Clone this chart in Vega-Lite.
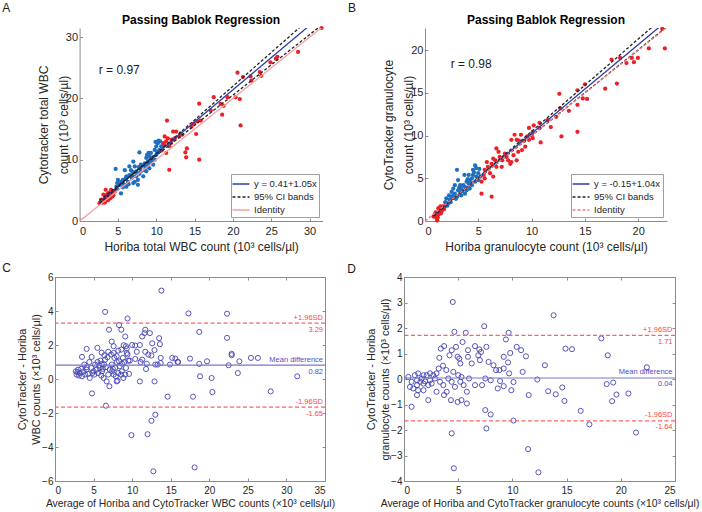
{
"$schema": "https://vega.github.io/schema/vega-lite/v6.json",
"background": "white",
"padding": {"left": 1, "top": 2, "right": 2, "bottom": 0},
"config": {
  "font": "Liberation Sans",
  "view": {"stroke": null},
  "axis": {"grid": false, "tickSize": -3, "labelPadding": 7, "domainColor": "#8c8c8c", "tickColor": "#8c8c8c", "labelColor": "#262626", "titleColor": "#262626", "titleFontWeight": "normal", "labelFont": "Liberation Sans", "titleFont": "Liberation Sans"},
  "text": {"font": "Liberation Sans"}
},
"datasets": {
  "a_pts": [
    {"x":2.6,"y":2.9,"s":"S2"},{"x":2.8,"y":3.2,"s":"S2"},{"x":3.0,"y":3.4,"s":"S2"},{"x":3.3,"y":3.7,"s":"S2"},{"x":3.5,"y":4.0,"s":"S2"},{"x":3.7,"y":3.8,"s":"S2"},{"x":3.9,"y":4.1,"s":"S2"},{"x":4.1,"y":4.3,"s":"S2"},{"x":4.3,"y":4.5,"s":"S2"},{"x":3.4,"y":5.1,"s":"S2"},{"x":4.1,"y":5.1,"s":"S2"},{"x":3.1,"y":4.3,"s":"S2"},{"x":3.7,"y":3.4,"s":"S2"},{"x":4.3,"y":4.0,"s":"S2"},{"x":2.8,"y":3.5,"s":"S2"},{"x":3.5,"y":3.4,"s":"S2"},{"x":4.6,"y":4.8,"s":"S2"},{"x":2.7,"y":3.0,"s":"S2"},{"x":3.2,"y":3.3,"s":"S2"},{"x":3.0,"y":3.0,"s":"S2"},{"x":3.6,"y":4.4,"s":"S2"},{"x":4.0,"y":3.7,"s":"S2"},{"x":2.9,"y":3.1,"s":"S2"},{"x":3.8,"y":4.6,"s":"S2"},{"x":3.3,"y":3.0,"s":"S2"},{"x":4.4,"y":4.2,"s":"S2"},
    {"x":11.4,"y":16.4,"s":"S2"},{"x":11.7,"y":8.35,"s":"S2"},{"x":11.1,"y":12.4,"s":"S2"},{"x":11.5,"y":13.5,"s":"S2"},{"x":12.2,"y":14.6,"s":"S2"},{"x":12.6,"y":14.6,"s":"S2"},{"x":13.0,"y":13.8,"s":"S2"},{"x":11.3,"y":11.1,"s":"S2"},{"x":13.8,"y":11.2,"s":"S2"},{"x":13.9,"y":10.4,"s":"S2"},{"x":11.3,"y":13.0,"s":"S2"},{"x":12.0,"y":13.3,"s":"S2"},{"x":12.4,"y":13.5,"s":"S2"},{"x":11.1,"y":13.8,"s":"S2"},{"x":11.7,"y":12.2,"s":"S2"},{"x":10.9,"y":12.7,"s":"S2"},{"x":13.2,"y":14.3,"s":"S2"},{"x":13.4,"y":14.1,"s":"S2"},{"x":10.8,"y":12.2,"s":"S2"},{"x":11.9,"y":12.7,"s":"S2"},{"x":12.3,"y":13.3,"s":"S2"},{"x":10.7,"y":11.5,"s":"S2"},
    {"x":14.0,"y":11.85,"s":"S2"},{"x":15.2,"y":14.2,"s":"S2"},{"x":15.6,"y":10.0,"s":"S2"},{"x":15.35,"y":16.25,"s":"S2"},{"x":14.9,"y":15.9,"s":"S2"},{"x":15.6,"y":19.15,"s":"S2"},{"x":15.8,"y":16.4,"s":"S2"},{"x":14.6,"y":15.4,"s":"S2"},{"x":17.1,"y":18.05,"s":"S2"},{"x":18.6,"y":17.35,"s":"S2"},{"x":18.4,"y":19.1,"s":"S2"},{"x":18.8,"y":18.8,"s":"S2"},{"x":17.5,"y":20.2,"s":"S2"},{"x":19.3,"y":20.2,"s":"S2"},{"x":20.35,"y":20.2,"s":"S2"},{"x":20.9,"y":19.9,"s":"S2"},{"x":21.0,"y":15.6,"s":"S2"},{"x":20.6,"y":24.2,"s":"S2"},{"x":21.3,"y":23.5,"s":"S2"},{"x":22.3,"y":23.6,"s":"S2"},{"x":22.4,"y":22.9,"s":"S2"},{"x":23.5,"y":24.3,"s":"S2"},{"x":23.7,"y":23.7,"s":"S2"},{"x":24.9,"y":25.9,"s":"S2"},{"x":25.6,"y":26.5,"s":"S2"},{"x":25.8,"y":26.8,"s":"S2"},{"x":28.5,"y":27.6,"s":"S2"},{"x":31.56,"y":31.5,"s":"S2"},
    {"x":4.7,"y":8.5,"s":"S1"},{"x":5.4,"y":4.5,"s":"S1"},{"x":5.65,"y":6.7,"s":"S1"},{"x":5.9,"y":8.3,"s":"S1"},{"x":7.8,"y":11.2,"s":"S1"},{"x":7.6,"y":5.9,"s":"S1"},{"x":6.5,"y":8.9,"s":"S1"},{"x":7.0,"y":9.7,"s":"S1"},{"x":7.2,"y":8.9,"s":"S1"},{"x":7.4,"y":8.1,"s":"S1"},{"x":8.0,"y":9.2,"s":"S1"},{"x":8.7,"y":10.3,"s":"S1"},{"x":8.9,"y":9.7,"s":"S1"},{"x":9.1,"y":10.5,"s":"S1"},{"x":9.3,"y":11.1,"s":"S1"},{"x":9.8,"y":11.6,"s":"S1"},{"x":10.2,"y":12.7,"s":"S1"},{"x":10.3,"y":13.1,"s":"S1"},{"x":10.0,"y":10.8,"s":"S1"},{"x":9.6,"y":10.0,"s":"S1"},{"x":8.5,"y":8.3,"s":"S1"},{"x":7.8,"y":7.7,"s":"S1"},{"x":7.0,"y":7.3,"s":"S1"},{"x":6.3,"y":6.4,"s":"S1"},{"x":6.1,"y":7.3,"s":"S1"},{"x":5.2,"y":5.9,"s":"S1"},{"x":4.8,"y":5.6,"s":"S1"},{"x":5.65,"y":5.5,"s":"S1"},{"x":6.5,"y":7.5,"s":"S1"},{"x":7.4,"y":7.3,"s":"S1"},{"x":8.3,"y":7.3,"s":"S1"},{"x":8.7,"y":8.1,"s":"S1"},{"x":9.1,"y":8.6,"s":"S1"},{"x":9.6,"y":9.2,"s":"S1"},{"x":9.8,"y":10.0,"s":"S1"},{"x":10.4,"y":11.6,"s":"S1"},{"x":10.65,"y":12.2,"s":"S1"},{"x":6.7,"y":8.3,"s":"S1"},{"x":5.4,"y":6.4,"s":"S1"},{"x":5.9,"y":5.9,"s":"S1"},{"x":7.0,"y":6.2,"s":"S1"},{"x":7.6,"y":6.7,"s":"S1"},{"x":8.0,"y":8.1,"s":"S1"},{"x":8.5,"y":9.4,"s":"S1"},{"x":8.9,"y":8.9,"s":"S1"},{"x":9.3,"y":9.7,"s":"S1"},{"x":10.0,"y":12.2,"s":"S1"},{"x":5.0,"y":6.7,"s":"S1"},{"x":6.1,"y":5.6,"s":"S1"},{"x":7.2,"y":6.4,"s":"S1"},{"x":7.9,"y":8.6,"s":"S1"},{"x":8.6,"y":8.9,"s":"S1"},{"x":6.0,"y":6.9,"s":"S1"},{"x":6.8,"y":7.0,"s":"S1"},{"x":7.3,"y":7.9,"s":"S1"},{"x":8.2,"y":9.0,"s":"S1"},{"x":9.0,"y":9.3,"s":"S1"},{"x":9.5,"y":10.4,"s":"S1"},{"x":10.1,"y":11.3,"s":"S1"},{"x":6.4,"y":6.0,"s":"S1"},{"x":5.6,"y":6.1,"s":"S1"},{"x":4.9,"y":5.2,"s":"S1"},{"x":8.8,"y":10.8,"s":"S1"},{"x":9.9,"y":12.9,"s":"S1"},{"x":10.5,"y":13.0,"s":"S1"},{"x":7.7,"y":8.8,"s":"S1"},{"x":6.9,"y":8.0,"s":"S1"},{"x":4.9,"y":6.2,"s":"S1"},{"x":9.0,"y":11.1,"s":"S1"}
  ],
  "a_lines": [
    {"series":"y = 0.41+1.05x","line":"reg","x":2.6,"y":3.14},{"series":"y = 0.41+1.05x","line":"reg","x":31.7,"y":33.7},
    {"series":"95% CI bands","line":"upper","x":2.6,"y":2.86},{"series":"95% CI bands","line":"upper","x":31.7,"y":34.87},
    {"series":"95% CI bands","line":"lower","x":2.6,"y":3.37},{"series":"95% CI bands","line":"lower","x":31.7,"y":32.09},
    {"series":"Identity","line":"id","x":0,"y":0},{"series":"Identity","line":"id","x":31.7,"y":31.7}
  ],
  "a_txt": [{"x":2.5,"y":24.7,"t":"r = 0.97"},{"x":-10.08,"y":34.76,"t":"A"}],
  "a_title": [{"x":15.85,"y":32.8,"t":"Passing Bablok Regression"}],
  "b_pts": [
    {"x":1.15,"y":0.05,"s":"S2"},{"x":1.1,"y":0.7,"s":"S2"},{"x":1.25,"y":1.1,"s":"S2"},{"x":1.4,"y":1.3,"s":"S2"},{"x":1.56,"y":1.5,"s":"S2"},{"x":1.7,"y":1.7,"s":"S2"},{"x":0.8,"y":0.5,"s":"S2"},{"x":1.2,"y":0.4,"s":"S2"},{"x":1.5,"y":0.9,"s":"S2"},{"x":1.9,"y":1.75,"s":"S2"},{"x":1.0,"y":1.0,"s":"S2"},{"x":1.6,"y":1.2,"s":"S2"},{"x":1.25,"y":1.5,"s":"S2"},{"x":0.9,"y":0.7,"s":"S2"},{"x":1.3,"y":0.8,"s":"S2"},{"x":1.8,"y":1.4,"s":"S2"},{"x":1.1,"y":0.3,"s":"S2"},{"x":2.0,"y":1.9,"s":"S2"},{"x":1.45,"y":1.7,"s":"S2"},
    {"x":5.3,"y":3.2,"s":"S2"},{"x":6.25,"y":2.85,"s":"S2"},{"x":5.5,"y":5.4,"s":"S2"},{"x":5.6,"y":6.0,"s":"S2"},{"x":5.9,"y":6.35,"s":"S2"},{"x":6.25,"y":6.7,"s":"S2"},{"x":6.4,"y":7.3,"s":"S2"},{"x":6.6,"y":7.1,"s":"S2"},{"x":6.9,"y":8.1,"s":"S2"},{"x":5.8,"y":6.9,"s":"S2"},{"x":6.7,"y":6.35,"s":"S2"},{"x":7.2,"y":6.35,"s":"S2"},{"x":7.5,"y":7.9,"s":"S2"},{"x":7.65,"y":7.5,"s":"S2"},{"x":8.0,"y":6.7,"s":"S2"},{"x":8.1,"y":6.9,"s":"S2"},{"x":8.3,"y":7.7,"s":"S2"},{"x":8.6,"y":7.1,"s":"S2"},{"x":8.75,"y":8.1,"s":"S2"},{"x":8.4,"y":10.1,"s":"S2"},{"x":8.6,"y":9.5,"s":"S2"},{"x":8.1,"y":9.5,"s":"S2"},{"x":7.0,"y":7.5,"s":"S2"},{"x":6.1,"y":5.6,"s":"S2"},{"x":6.4,"y":5.2,"s":"S2"},{"x":5.6,"y":5.0,"s":"S2"},{"x":5.3,"y":4.6,"s":"S2"},{"x":6.7,"y":8.5,"s":"S2"},{"x":7.25,"y":7.1,"s":"S2"},{"x":7.8,"y":7.1,"s":"S2"},{"x":9.1,"y":8.3,"s":"S2"},{"x":9.4,"y":8.7,"s":"S2"},
    {"x":22.25,"y":22.5,"s":"S2"},{"x":22.5,"y":20.2,"s":"S2"},{"x":21.0,"y":20.2,"s":"S2"},{"x":19.97,"y":19.1,"s":"S2"},{"x":19.6,"y":18.6,"s":"S2"},{"x":19.4,"y":19.1,"s":"S2"},{"x":18.9,"y":18.5,"s":"S2"},{"x":18.3,"y":19.1,"s":"S2"},{"x":17.5,"y":18.9,"s":"S2"},{"x":18.0,"y":16.1,"s":"S2"},{"x":16.9,"y":15.5,"s":"S2"},{"x":15.0,"y":16.0,"s":"S2"},{"x":14.3,"y":15.3,"s":"S2"},{"x":14.8,"y":14.35,"s":"S2"},{"x":15.2,"y":14.3,"s":"S2"},{"x":14.3,"y":13.6,"s":"S2"},{"x":14.3,"y":10.45,"s":"S2"},{"x":12.6,"y":14.9,"s":"S2"},{"x":12.7,"y":13.2,"s":"S2"},{"x":13.5,"y":12.9,"s":"S2"},{"x":12.3,"y":12.2,"s":"S2"},{"x":12.8,"y":9.9,"s":"S2"},{"x":11.8,"y":11.0,"s":"S2"},{"x":10.75,"y":11.5,"s":"S2"},{"x":10.2,"y":11.2,"s":"S2"},{"x":9.75,"y":10.9,"s":"S2"},{"x":10.85,"y":9.2,"s":"S2"},{"x":10.1,"y":10.4,"s":"S2"},{"x":10.75,"y":10.9,"s":"S2"},{"x":9.6,"y":9.9,"s":"S2"},{"x":10.0,"y":10.0,"s":"S2"},{"x":9.3,"y":9.4,"s":"S2"},{"x":9.75,"y":9.5,"s":"S2"},{"x":8.8,"y":9.4,"s":"S2"},{"x":9.0,"y":10.1,"s":"S2"},{"x":10.1,"y":9.7,"s":"S2"},{"x":11.5,"y":11.8,"s":"S2"},
    {"x":2.2,"y":2.1,"s":"S1"},{"x":2.3,"y":2.5,"s":"S1"},{"x":2.5,"y":2.8,"s":"S1"},{"x":2.65,"y":3.0,"s":"S1"},{"x":2.8,"y":3.2,"s":"S1"},{"x":3.0,"y":6.0,"s":"S1"},{"x":3.1,"y":3.6,"s":"S1"},{"x":3.3,"y":3.4,"s":"S1"},{"x":3.4,"y":3.8,"s":"S1"},{"x":3.6,"y":4.2,"s":"S1"},{"x":3.75,"y":4.0,"s":"S1"},{"x":3.9,"y":4.6,"s":"S1"},{"x":4.1,"y":4.4,"s":"S1"},{"x":4.2,"y":4.8,"s":"S1"},{"x":4.4,"y":5.0,"s":"S1"},{"x":4.5,"y":5.4,"s":"S1"},{"x":4.7,"y":6.5,"s":"S1"},{"x":4.8,"y":6.2,"s":"S1"},{"x":5.0,"y":5.6,"s":"S1"},{"x":5.2,"y":5.2,"s":"S1"},{"x":3.7,"y":5.4,"s":"S1"},{"x":3.1,"y":4.8,"s":"S1"},{"x":2.8,"y":4.2,"s":"S1"},{"x":2.5,"y":3.4,"s":"S1"},{"x":2.0,"y":2.65,"s":"S1"},{"x":3.0,"y":2.85,"s":"S1"},{"x":3.4,"y":3.0,"s":"S1"},{"x":3.9,"y":3.6,"s":"S1"},{"x":4.4,"y":4.2,"s":"S1"},{"x":4.7,"y":4.6,"s":"S1"},{"x":4.8,"y":5.2,"s":"S1"},{"x":4.1,"y":5.4,"s":"S1"},{"x":4.5,"y":6.0,"s":"S1"},{"x":3.3,"y":4.2,"s":"S1"},{"x":4.2,"y":3.8,"s":"S1"},{"x":2.65,"y":3.8,"s":"S1"},{"x":3.75,"y":3.2,"s":"S1"},{"x":5.0,"y":4.8,"s":"S1"},{"x":2.25,"y":3.0,"s":"S1"},{"x":1.9,"y":2.2,"s":"S1"},{"x":2.1,"y":1.8,"s":"S1"},{"x":2.4,"y":2.2,"s":"S1"},{"x":3.5,"y":3.5,"s":"S1"},{"x":4.0,"y":4.9,"s":"S1"},{"x":4.6,"y":5.7,"s":"S1"},{"x":5.1,"y":6.1,"s":"S1"},{"x":3.2,"y":3.9,"s":"S1"},{"x":2.9,"y":2.6,"s":"S1"},{"x":4.3,"y":4.5,"s":"S1"}
  ],
  "b_lines": [
    {"series":"y = -0.15+1.04x","line":"reg","x":0.8,"y":0.68},{"series":"y = -0.15+1.04x","line":"reg","x":22.7,"y":23.46},
    {"series":"95% CI bands","line":"upper","x":0.8,"y":0.56},{"series":"95% CI bands","line":"upper","x":22.7,"y":24.22},
    {"series":"95% CI bands","line":"lower","x":0.8,"y":0.75},{"series":"95% CI bands","line":"lower","x":22.7,"y":22.76},
    {"series":"Identity","line":"id","x":0,"y":0},{"series":"Identity","line":"id","x":22.7,"y":22.7}
  ],
  "b_txt": [{"x":2.41,"y":18.44,"t":"r = 0.98"},{"x":-7.22,"y":24.94,"t":"B"}],
  "b_title": [{"x":11.35,"y":23.54,"t":"Passing Bablok Regression"}],
  "c_pts": [
    {"x":13.8,"y":5.2},{"x":6.5,"y":3.95},{"x":9.4,"y":3.56},{"x":17.3,"y":3.86},{"x":8.3,"y":3.17},{"x":8.6,"y":2.9},{"x":7.0,"y":2.9},{"x":11.7,"y":2.9},{"x":11.6,"y":2.7},{"x":12.3,"y":2.7},{"x":9.1,"y":2.5},{"x":11.3,"y":2.5},{"x":13.5,"y":2.4},{"x":7.35,"y":2.2},{"x":13.6,"y":2.05},{"x":4.1,"y":1.77},{"x":5.5,"y":1.83},{"x":7.6,"y":1.93},{"x":8.9,"y":1.99},{"x":9.2,"y":1.93},{"x":10.0,"y":2.0},{"x":10.4,"y":1.97},{"x":11.0,"y":2.0},{"x":12.6,"y":2.1},{"x":3.5,"y":1.3},{"x":4.75,"y":1.3},{"x":6.05,"y":1.55},{"x":6.4,"y":1.4},{"x":6.9,"y":1.6},{"x":8.0,"y":1.34},{"x":8.6,"y":1.73},{"x":9.3,"y":1.79},{"x":9.4,"y":1.44},{"x":10.6,"y":1.6},{"x":11.7,"y":1.6},{"x":12.1,"y":1.44},{"x":12.9,"y":1.7},{"x":12.5,"y":1.38},{"x":13.7,"y":1.24},{"x":15.2,"y":1.24},{"x":15.6,"y":1.2},{"x":15.9,"y":1.0},{"x":17.5,"y":1.2},{"x":10.4,"y":1.18},{"x":11.1,"y":1.0},{"x":11.3,"y":1.14},{"x":11.9,"y":0.9},{"x":11.8,"y":0.59},{"x":13.0,"y":0.85},{"x":13.7,"y":0.94},{"x":13.3,"y":0.85},{"x":14.9,"y":0.85},{"x":11.0,"y":-0.14},{"x":12.9,"y":-0.14},{"x":14.6,"y":-1.04},{"x":17.9,"y":-1.04},{"x":4.8,"y":-0.85},{"x":6.6,"y":-1.57},{"x":13.0,"y":-2.1},{"x":12.5,"y":-2.46},{"x":9.9,"y":-3.3},{"x":12.0,"y":-3.25},{"x":12.75,"y":-5.43},{"x":18.1,"y":-5.2},
    {"x":2.7,"y":0.45},{"x":2.8,"y":0.26},{"x":3.0,"y":0.55},{"x":3.2,"y":0.35},{"x":3.5,"y":0.16},{"x":3.7,"y":0.45},{"x":3.9,"y":0.26},{"x":4.1,"y":0.55},{"x":4.3,"y":0.3},{"x":4.5,"y":0.06},{"x":4.7,"y":0.65},{"x":5.0,"y":0.45},{"x":5.1,"y":0.26},{"x":5.2,"y":0.85},{"x":5.4,"y":0.55},{"x":5.6,"y":0.35},{"x":5.7,"y":0.8},{"x":5.8,"y":0.65},{"x":6.05,"y":0.88},{"x":6.1,"y":0.45},{"x":6.35,"y":0.85},{"x":6.5,"y":1.14},{"x":6.6,"y":0.69},{"x":6.7,"y":-0.14},{"x":6.9,"y":0.26},{"x":7.05,"y":-0.43},{"x":7.1,"y":0.55},{"x":7.26,"y":1.44},{"x":7.35,"y":0.85},{"x":7.4,"y":0.45},{"x":7.6,"y":0.26},{"x":7.7,"y":1.24},{"x":7.8,"y":0.65},{"x":7.9,"y":0.16},{"x":8.0,"y":-0.14},{"x":8.1,"y":-0.1},{"x":8.2,"y":0.35},{"x":8.3,"y":1.04},{"x":8.4,"y":0.75},{"x":8.55,"y":0.26},{"x":8.65,"y":0.45},{"x":8.8,"y":1.24},{"x":8.86,"y":0.06},{"x":9.0,"y":1.0},{"x":9.1,"y":0.26},{"x":9.2,"y":0.65},{"x":9.3,"y":1.53},{"x":9.5,"y":1.08},{"x":9.6,"y":0.3},{"x":9.7,"y":1.08},{"x":4.1,"y":0.69},{"x":3.8,"y":0.85},{"x":4.45,"y":1.0},{"x":4.85,"y":0.35},{"x":5.5,"y":1.0},{"x":5.9,"y":1.08},{"x":6.3,"y":0.06},{"x":6.8,"y":1.28},{"x":7.6,"y":1.53},{"x":8.0,"y":1.0},{"x":8.2,"y":1.67},{"x":3.1,"y":0.2},{"x":3.4,"y":0.6},{"x":2.9,"y":0.4},{"x":6.0,"y":0.2},{"x":6.2,"y":0.6},{"x":7.5,"y":0.6},{"x":8.7,"y":0.9},
    {"x":22.3,"y":3.84},{"x":22.3,"y":2.42},{"x":18.7,"y":2.77},{"x":18.7,"y":0.89},{"x":18.8,"y":0.16},{"x":19.7,"y":1.04},{"x":20.3,"y":0.06},{"x":20.4,"y":-0.77},{"x":22.5,"y":0.81},{"x":22.9,"y":1.4},{"x":22.9,"y":1.48},{"x":23.9,"y":1.04},{"x":23.7,"y":0.35},{"x":25.4,"y":1.24},{"x":26.3,"y":1.24},{"x":27.96,"y":-0.73},{"x":31.4,"y":0.16},{"x":15.95,"y":1.0}
  ],
  "c_ref": [
    {"kind":"mean","value":0.82,"name":"Mean difference","lab":"0.82"},
    {"kind":"sd","value":3.29,"name":"+1.96SD","lab":"3.29"},
    {"kind":"sd","value":-1.65,"name":"-1.96SD","lab":"-1.65"}
  ],
  "c_txt": [{"x":-6.83,"y":6.51,"t":"C"}],
  "d_pts": [
    {"x":4.5,"y":3.02},{"x":7.4,"y":2.07},{"x":4.65,"y":1.85},{"x":5.7,"y":1.81},{"x":9.65,"y":1.81},{"x":9.4,"y":1.55},{"x":5.4,"y":1.45},{"x":6.55,"y":1.29},{"x":6.95,"y":1.16},{"x":7.1,"y":1.06},{"x":7.6,"y":1.26},{"x":10.4,"y":1.26},{"x":10.8,"y":1.13},{"x":11.25,"y":0.89},{"x":9.2,"y":0.87},{"x":9.8,"y":1.02},{"x":3.7,"y":1.29},{"x":3.4,"y":1.19},{"x":4.2,"y":0.93},{"x":4.8,"y":1.26},{"x":4.95,"y":0.87},{"x":3.26,"y":0.83},{"x":4.4,"y":1.13},{"x":5.1,"y":0.8},{"x":5.9,"y":1.13},{"x":5.9,"y":0.87},{"x":5.2,"y":0.61},{"x":6.85,"y":0.93},{"x":7.0,"y":0.74},{"x":6.25,"y":0.61},{"x":7.8,"y":0.67},{"x":8.25,"y":0.54},{"x":8.5,"y":0.35},{"x":8.8,"y":0.35},{"x":9.2,"y":0.41},{"x":9.6,"y":0.65},{"x":9.7,"y":0.22},{"x":10.95,"y":0.28},{"x":8.86,"y":-0.08},{"x":9.2,"y":-0.28},{"x":9.9,"y":-0.44},{"x":11.5,"y":-0.63},{"x":8.65,"y":-0.37},{"x":8.0,"y":-0.05},{"x":7.5,"y":0.02},{"x":7.2,"y":-0.24},{"x":6.55,"y":-0.24},{"x":6.0,"y":0.02},{"x":5.5,"y":-0.24},{"x":5.3,"y":0.08},{"x":5.0,"y":0.15},{"x":4.55,"y":0.28},{"x":3.9,"y":0.35},{"x":3.6,"y":0.52},{"x":3.2,"y":0.41},{"x":3.0,"y":0.22},{"x":2.7,"y":0.15},{"x":2.4,"y":0.22},{"x":2.1,"y":0.15},{"x":1.8,"y":0.15},{"x":1.3,"y":0.22},{"x":1.0,"y":0.15},{"x":0.7,"y":-0.11},{"x":0.55,"y":-0.31},{"x":0.86,"y":-0.37},{"x":1.2,"y":-0.24},{"x":1.5,"y":-0.11},{"x":1.63,"y":0.02},{"x":1.94,"y":-0.09},{"x":2.24,"y":-0.24},{"x":2.55,"y":-0.18},{"x":2.86,"y":0.02},{"x":3.32,"y":-0.11},{"x":3.63,"y":-0.24},{"x":3.94,"y":-0.5},{"x":4.09,"y":0.02},{"x":4.4,"y":-0.11},{"x":4.7,"y":-0.31},{"x":5.2,"y":-0.11},{"x":5.8,"y":-0.5},{"x":5.3,"y":-0.83},{"x":4.95,"y":-0.9},{"x":4.33,"y":-0.83},{"x":3.69,"y":-0.63},{"x":3.0,"y":-0.5},{"x":2.24,"y":-0.83},{"x":1.8,"y":-0.44},{"x":1.2,"y":-0.63},{"x":0.7,"y":-1.09},{"x":5.8,"y":-0.96},{"x":7.5,"y":-1.22},{"x":8.0,"y":-1.39},{"x":7.6,"y":-1.94},{"x":4.4,"y":-2.13},{"x":4.6,"y":-3.5},{"x":11.45,"y":-2.75},{"x":12.4,"y":-3.66},{"x":10.1,"y":-1.63},{"x":0.4,"y":0.08},{"x":1.2,"y":-0.05},{"x":1.8,"y":-0.18},{"x":2.4,"y":-0.05},{"x":1.3,"y":-0.44},{"x":10.1,"y":-0.12},
    {"x":13.8,"y":2.5},{"x":13.0,"y":0.54},{"x":13.3,"y":-0.48},{"x":12.3,"y":-0.02},{"x":14.0,"y":-0.6},{"x":14.6,"y":-0.33},{"x":14.8,"y":-0.86},{"x":14.9,"y":1.19},{"x":15.5,"y":1.17},{"x":16.3,"y":-1.25},{"x":17.1,"y":-1.78},{"x":18.2,"y":1.59},{"x":18.8,"y":0.93},{"x":18.7,"y":-0.2},{"x":19.3,"y":-0.14},{"x":19.2,"y":-0.87},{"x":19.6,"y":-0.61},{"x":20.7,"y":-0.57},{"x":21.4,"y":-2.1},{"x":22.4,"y":0.46}
  ],
  "d_ref": [
    {"kind":"mean","value":0.04,"name":"Mean difference","lab":"0.04"},
    {"kind":"sd","value":1.71,"name":"+1.96SD","lab":"1.71"},
    {"kind":"sd","value":-1.64,"name":"-1.96SD","lab":"-1.64"}
  ],
  "d_txt": [{"x":-5.23,"y":4.3,"t":"D"}]
},
"resolve": {"scale": {"x": "independent", "y": "independent", "stroke": "independent", "strokeDash": "independent", "color": "independent"}, "legend": {"stroke": "independent", "strokeDash": "independent"}},
"columns": 2,
"align": "none",
"bounds": "flush",
"spacing": {"row": 56, "column": 79},
"concat": [
{
  "width": 267.6, "height": 193,
  "layer": [
    {"data": {"name": "a_pts"}, "mark": {"type": "circle", "size": 18, "opacity": 1},
     "encoding": {
       "x": {"field": "x", "type": "quantitative", "scale": {"domain": [0, 31.7], "nice": false, "rangeMin": 24.6}, "title": "Horiba total WBC count (10³ cells/µl)", "axis": {"values": [0,5,10,15,20,25,30], "labelFontSize": 11, "titleFontSize": 12, "titlePadding": 5}},
       "y": {"field": "y", "type": "quantitative", "scale": {"domain": [0, 31.5], "nice": false}, "title": ["Cytotracker total WBC", "count (10³ cells/µl)"], "axis": {"values": [0,5,10,15,20,25,30], "offset": -24.6, "labelFontSize": 11, "titleFontSize": 12, "titleLineHeight": 20, "labelPadding": 5, "titlePadding": -5}},
       "fill": {"field": "s", "type": "nominal", "scale": {"domain": ["S1", "S2"], "range": ["#1f6fc0", "#ec2027"]}, "legend": null}
     }},
    {"data": {"name": "a_lines"}, "mark": {"type": "line", "clip": true, "strokeWidth": 1.3},
     "encoding": {
       "x": {"field": "x", "type": "quantitative", "scale": {"domain": [0, 31.7], "nice": false, "rangeMin": 24.6}, "title": "Horiba total WBC count (10³ cells/µl)"},
       "y": {"field": "y", "type": "quantitative", "scale": {"domain": [0, 31.5], "nice": false}, "title": ["Cytotracker total WBC", "count (10³ cells/µl)"]},
       "stroke": {"field": "series", "type": "nominal", "scale": {"domain": ["y = 0.41+1.05x", "95% CI bands", "Identity"], "range": ["#2a3fa6", "#222222", "#f4a0a0"]},
         "legend": {"orient": "bottom-right", "offset": 4, "title": null, "fillColor": "#ffffff", "strokeColor": "#a0a0a0", "padding": 2, "symbolType": "M-1.2,0H1.2", "symbolSize": 200, "symbolStrokeWidth": 1.3, "labelFontSize": 9.5, "labelOffset": 5, "rowPadding": 0, "labelColor": "#262626"}},
       "strokeDash": {"field": "series", "type": "nominal", "scale": {"domain": ["y = 0.41+1.05x", "95% CI bands", "Identity"], "range": [[1,0],[3,2],[1,0]]},
         "legend": {"orient": "bottom-right", "offset": 4, "title": null, "fillColor": "#ffffff", "strokeColor": "#a0a0a0", "padding": 2, "symbolType": "M-1.2,0H1.2", "symbolSize": 200, "symbolStrokeWidth": 1.3, "labelFontSize": 9.5, "labelOffset": 5, "rowPadding": 0, "labelColor": "#262626"}},
       "detail": {"field": "line"}
     }},
    {"data": {"name": "a_txt"}, "mark": {"type": "text", "align": "left", "baseline": "middle", "fontSize": 12, "color": "#1a1a1a"},
     "encoding": {
       "x": {"field": "x", "type": "quantitative", "scale": {"domain": [0, 31.7], "nice": false, "rangeMin": 24.6}, "title": "Horiba total WBC count (10³ cells/µl)"},
       "y": {"field": "y", "type": "quantitative", "scale": {"domain": [0, 31.5], "nice": false}, "title": ["Cytotracker total WBC", "count (10³ cells/µl)"]},
       "text": {"field": "t"}
     }},
    {"data": {"name": "a_title"}, "mark": {"type": "text", "align": "center", "baseline": "middle", "fontSize": 12, "fontWeight": "bold", "color": "#000000"},
     "encoding": {
       "x": {"field": "x", "type": "quantitative", "scale": {"domain": [0, 31.7], "nice": false, "rangeMin": 24.6}, "title": "Horiba total WBC count (10³ cells/µl)"},
       "y": {"field": "y", "type": "quantitative", "scale": {"domain": [0, 31.5], "nice": false}, "title": ["Cytotracker total WBC", "count (10³ cells/µl)"]},
       "text": {"field": "t"}
     }}
  ]
},
{
  "width": 263, "height": 193,
  "layer": [
    {"data": {"name": "b_pts"}, "mark": {"type": "circle", "size": 18, "opacity": 1},
     "encoding": {
       "x": {"field": "x", "type": "quantitative", "scale": {"domain": [0, 22.7], "nice": false, "rangeMin": 21}, "title": "Horiba granulocyte count (10³ cells/µl)", "axis": {"values": [0,5,10,15,20], "labelFontSize": 11, "titleFontSize": 12, "titlePadding": 5}},
       "y": {"field": "y", "type": "quantitative", "scale": {"domain": [0, 22.6], "nice": false}, "title": ["CytoTracker granulocyte", "count (10³ cells/µl)"], "axis": {"values": [0,5,10,15,20], "offset": -21, "labelFontSize": 11, "titleFontSize": 12, "titleLineHeight": 20, "labelPadding": 5, "titlePadding": -5}},
       "fill": {"field": "s", "type": "nominal", "scale": {"domain": ["S1", "S2"], "range": ["#1f6fc0", "#ec2027"]}, "legend": null}
     }},
    {"data": {"name": "b_lines"}, "mark": {"type": "line", "clip": true, "strokeWidth": 1.3},
     "encoding": {
       "x": {"field": "x", "type": "quantitative", "scale": {"domain": [0, 22.7], "nice": false, "rangeMin": 21}, "title": "Horiba granulocyte count (10³ cells/µl)"},
       "y": {"field": "y", "type": "quantitative", "scale": {"domain": [0, 22.6], "nice": false}, "title": ["CytoTracker granulocyte", "count (10³ cells/µl)"]},
       "stroke": {"field": "series", "type": "nominal", "scale": {"domain": ["y = -0.15+1.04x", "95% CI bands", "Identity"], "range": ["#2a3fa6", "#222222", "#f47a7a"]},
         "legend": {"orient": "bottom-right", "offset": 4, "title": null, "fillColor": "#ffffff", "strokeColor": "#a0a0a0", "padding": 2, "symbolType": "M-1.2,0H1.2", "symbolSize": 200, "symbolStrokeWidth": 1.3, "labelFontSize": 9.5, "labelOffset": 5, "rowPadding": 0, "labelColor": "#262626"}},
       "strokeDash": {"field": "series", "type": "nominal", "scale": {"domain": ["y = -0.15+1.04x", "95% CI bands", "Identity"], "range": [[1,0],[3,2],[3,2]]},
         "legend": {"orient": "bottom-right", "offset": 4, "title": null, "fillColor": "#ffffff", "strokeColor": "#a0a0a0", "padding": 2, "symbolType": "M-1.2,0H1.2", "symbolSize": 200, "symbolStrokeWidth": 1.3, "labelFontSize": 9.5, "labelOffset": 5, "rowPadding": 0, "labelColor": "#262626"}},
       "detail": {"field": "line"}
     }},
    {"data": {"name": "b_txt"}, "mark": {"type": "text", "align": "left", "baseline": "middle", "fontSize": 12, "color": "#1a1a1a"},
     "encoding": {
       "x": {"field": "x", "type": "quantitative", "scale": {"domain": [0, 22.7], "nice": false, "rangeMin": 21}, "title": "Horiba granulocyte count (10³ cells/µl)"},
       "y": {"field": "y", "type": "quantitative", "scale": {"domain": [0, 22.6], "nice": false}, "title": ["CytoTracker granulocyte", "count (10³ cells/µl)"]},
       "text": {"field": "t"}
     }},
    {"data": {"name": "b_title"}, "mark": {"type": "text", "align": "center", "baseline": "middle", "fontSize": 12, "fontWeight": "bold", "color": "#000000"},
     "encoding": {
       "x": {"field": "x", "type": "quantitative", "scale": {"domain": [0, 22.7], "nice": false, "rangeMin": 21}, "title": "Horiba granulocyte count (10³ cells/µl)"},
       "y": {"field": "y", "type": "quantitative", "scale": {"domain": [0, 22.6], "nice": false}, "title": ["CytoTracker granulocyte", "count (10³ cells/µl)"]},
       "text": {"field": "t"}
     }}
  ]
},
{
  "width": 270, "height": 204,
  "view": {"stroke": "#8c8c8c"},
  "resolve": {"axis": {"x": "independent", "y": "independent"}},
  "layer": [
    {"data": {"name": "c_pts"}, "mark": {"type": "point", "shape": "circle", "filled": false, "size": 26, "strokeWidth": 0.9, "color": "#4343b3", "opacity": 1},
     "encoding": {
       "x": {"field": "x", "type": "quantitative", "scale": {"domain": [0, 35], "nice": false}, "title": "Average of Horiba and CytoTracker WBC counts (×10³ cells/μl)", "axis": {"orient": "bottom", "values": [0,5,10,15,20,25,30,35], "labelFontSize": 10, "titleFontSize": 10.4, "titlePadding": 3}},
       "y": {"field": "y", "type": "quantitative", "scale": {"domain": [-6, 6], "nice": false}, "title": ["CytoTracker - Horiba", "WBC counts (×10³ cells/μl)"], "axis": {"orient": "left", "values": [-6,-4,-2,0,2,4,6], "labelFontSize": 10, "titleFontSize": 11, "titleLineHeight": 13.5, "labelPadding": 5, "titlePadding": 0.5}}
     }},
    {"data": {"name": "c_ref"}, "mark": {"type": "rule", "strokeWidth": 1.2},
     "encoding": {
       "y": {"field": "value", "type": "quantitative", "scale": {"domain": [-6, 6], "nice": false}, "axis": {"orient": "right", "values": [-6,-4,-2,0,2,4,6], "labels": false, "title": null, "domain": false}},
       "stroke": {"field": "kind", "type": "nominal", "scale": {"domain": ["mean", "sd"], "range": ["#7878cc", "#ff6060"]}, "legend": null},
       "strokeDash": {"field": "kind", "type": "nominal", "scale": {"domain": ["mean", "sd"], "range": [[1,0],[4,2.5]]}, "legend": null}
     }},
    {"data": {"name": "c_ref"}, "mark": {"type": "text", "align": "right", "baseline": "bottom", "dx": -2, "dy": -1.5, "fontSize": 7.5},
     "encoding": {
       "x": {"datum": 35, "type": "quantitative", "scale": {"domain": [0, 35], "nice": false}, "axis": {"orient": "top", "values": [0,5,10,15,20,25,30,35], "labels": false, "title": null, "domain": false}},
       "y": {"field": "value", "type": "quantitative", "scale": {"domain": [-6, 6], "nice": false}, "axis": null},
       "text": {"field": "name"},
       "color": {"field": "kind", "type": "nominal", "scale": {"domain": ["mean", "sd"], "range": ["#4f4fc0", "#ff4545"]}, "legend": null}
     }},
    {"data": {"name": "c_ref"}, "mark": {"type": "text", "align": "right", "baseline": "top", "dx": -2, "dy": 2.5, "fontSize": 7.5},
     "encoding": {
       "x": {"datum": 35, "type": "quantitative", "scale": {"domain": [0, 35], "nice": false}, "axis": null},
       "y": {"field": "value", "type": "quantitative", "scale": {"domain": [-6, 6], "nice": false}, "axis": null},
       "text": {"field": "lab"},
       "color": {"field": "kind", "type": "nominal", "scale": {"domain": ["mean", "sd"], "range": ["#4f4fc0", "#ff4545"]}, "legend": null}
     }},
    {"data": {"name": "c_txt"}, "mark": {"type": "text", "align": "left", "baseline": "middle", "fontSize": 12, "color": "#1a1a1a"},
     "encoding": {
       "x": {"field": "x", "type": "quantitative", "scale": {"domain": [0, 35], "nice": false}, "axis": null},
       "y": {"field": "y", "type": "quantitative", "scale": {"domain": [-6, 6], "nice": false}, "axis": null},
       "text": {"field": "t"}
     }}
  ]
},
{
  "width": 271, "height": 204,
  "view": {"stroke": "#8c8c8c"},
  "resolve": {"axis": {"x": "independent", "y": "independent"}},
  "layer": [
    {"data": {"name": "d_pts"}, "mark": {"type": "point", "shape": "circle", "filled": false, "size": 26, "strokeWidth": 0.9, "color": "#4343b3", "opacity": 1},
     "encoding": {
       "x": {"field": "x", "type": "quantitative", "scale": {"domain": [0, 25], "nice": false}, "title": "Average of Horiba and CytoTracker granulocyte counts (×10³ cells/μl)", "axis": {"orient": "bottom", "values": [0,5,10,15,20,25], "labelFontSize": 10, "titleFontSize": 10.4, "titlePadding": 3}},
       "y": {"field": "y", "type": "quantitative", "scale": {"domain": [-4, 4], "nice": false}, "title": ["CytoTracker - Horiba", "granulocyte counts (×10³ cells/μl)"], "axis": {"orient": "left", "values": [-4,-3,-2,-1,0,1,2,3,4], "labelFontSize": 10, "titleFontSize": 11, "titleLineHeight": 13.5, "labelPadding": 5, "titlePadding": 0.5}}
     }},
    {"data": {"name": "d_ref"}, "mark": {"type": "rule", "strokeWidth": 1.2},
     "encoding": {
       "y": {"field": "value", "type": "quantitative", "scale": {"domain": [-4, 4], "nice": false}, "axis": {"orient": "right", "values": [-4,-3,-2,-1,0,1,2,3,4], "labels": false, "title": null, "domain": false}},
       "stroke": {"field": "kind", "type": "nominal", "scale": {"domain": ["mean", "sd"], "range": ["#7878cc", "#ff6060"]}, "legend": null},
       "strokeDash": {"field": "kind", "type": "nominal", "scale": {"domain": ["mean", "sd"], "range": [[1,0],[4,2.5]]}, "legend": null}
     }},
    {"data": {"name": "d_ref"}, "mark": {"type": "text", "align": "right", "baseline": "bottom", "dx": -2.5, "dy": -1.5, "fontSize": 7.5},
     "encoding": {
       "x": {"datum": 25, "type": "quantitative", "scale": {"domain": [0, 25], "nice": false}, "axis": {"orient": "top", "values": [0,5,10,15,20,25], "labels": false, "title": null, "domain": false}},
       "y": {"field": "value", "type": "quantitative", "scale": {"domain": [-4, 4], "nice": false}, "axis": null},
       "text": {"field": "name"},
       "color": {"field": "kind", "type": "nominal", "scale": {"domain": ["mean", "sd"], "range": ["#4f4fc0", "#ff4545"]}, "legend": null}
     }},
    {"data": {"name": "d_ref"}, "mark": {"type": "text", "align": "right", "baseline": "top", "dx": -2.5, "dy": 2.5, "fontSize": 7.5},
     "encoding": {
       "x": {"datum": 25, "type": "quantitative", "scale": {"domain": [0, 25], "nice": false}, "axis": null},
       "y": {"field": "value", "type": "quantitative", "scale": {"domain": [-4, 4], "nice": false}, "axis": null},
       "text": {"field": "lab"},
       "color": {"field": "kind", "type": "nominal", "scale": {"domain": ["mean", "sd"], "range": ["#4f4fc0", "#ff4545"]}, "legend": null}
     }},
    {"data": {"name": "d_txt"}, "mark": {"type": "text", "align": "left", "baseline": "middle", "fontSize": 12, "color": "#1a1a1a"},
     "encoding": {
       "x": {"field": "x", "type": "quantitative", "scale": {"domain": [0, 25], "nice": false}, "axis": null},
       "y": {"field": "y", "type": "quantitative", "scale": {"domain": [-4, 4], "nice": false}, "axis": null},
       "text": {"field": "t"}
     }}
  ]
}
]
}
